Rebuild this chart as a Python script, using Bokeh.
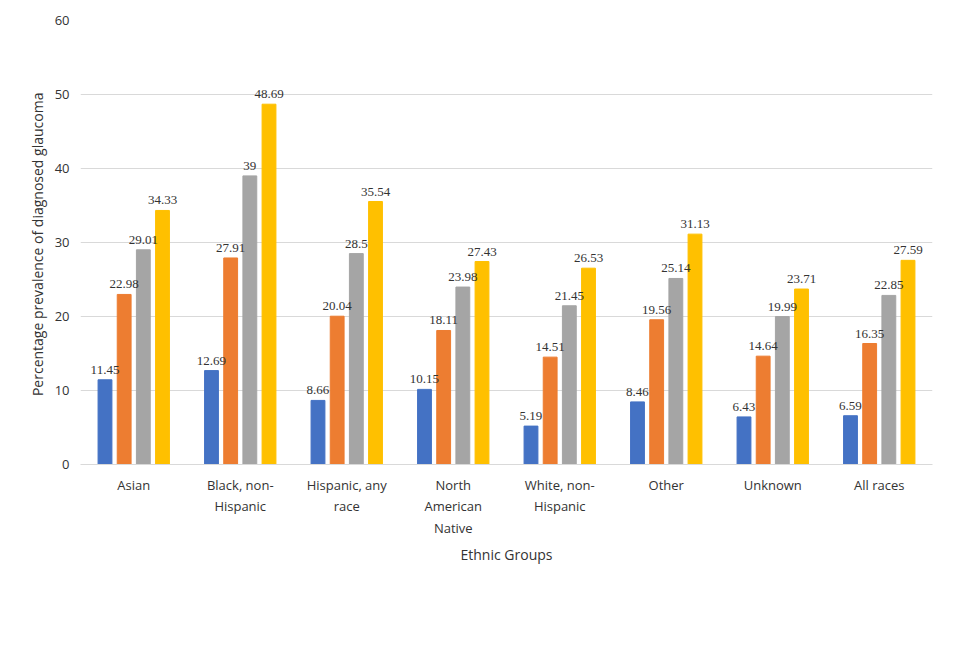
from bokeh.plotting import figure
from bokeh.models import ColumnDataSource, LabelSet, Legend, LegendItem, FixedTicker
from bokeh.embed import file_html
from bokeh.resources import INLINE

groups = ["Asian", "Black, non-\nHispanic", "Hispanic, any\nrace", "North\nAmerican\nNative",
          "White, non-\nHispanic", "Other", "Unknown", "All races"]
series = ["18-39", "40-64", "65-84", "85 years and older"]
v18 = [11.45, 12.69, 8.66, 10.15, 5.19, 8.46, 6.43, 6.59]
v40 = [22.98, 27.91, 20.04, 18.11, 14.51, 19.56, 14.64, 16.35]
v65 = [29.01, 39, 28.5, 23.98, 21.45, 25.14, 19.99, 22.85]
v85 = [34.33, 48.69, 35.54, 27.43, 26.53, 31.13, 23.71, 27.59]
colors = ["#4472C4", "#ED7D31", "#A5A5A5", "#FFC000"]
offsets = [-0.27, -0.09, 0.09, 0.27]

p = figure(frame_width=852, frame_height=444, output_backend="svg", toolbar_location=None,
           x_range=(-0.5, 7.5), y_range=(0, 60), min_border_left=80, min_border_top=20,
           min_border_right=15, min_border_bottom=10)
p.outline_line_color = None
p.xgrid.grid_line_color = None
p.ygrid.grid_line_color = "#D9D9D9"
p.yaxis.ticker = FixedTicker(ticks=list(range(0, 61, 10)))
p.xaxis.ticker = FixedTicker(ticks=list(range(8)))
p.xaxis.major_label_overrides = {i: g for i, g in enumerate(groups)}
for ax in (p.xaxis, p.yaxis):
    ax.major_tick_line_color = None
    ax.minor_tick_line_color = None
    ax.major_label_text_font = "Open Sans"
    ax.major_label_text_font_size = "13px"
    ax.major_label_text_color = "#333333"
    ax.axis_label_text_font = "Open Sans"
    ax.axis_label_text_font_size = "14px"
    ax.axis_label_text_font_style = "normal"
    ax.axis_label_text_color = "#333333"
p.yaxis.axis_line_color = None
p.xaxis.axis_line_color = "#D9D9D9"
p.yaxis.axis_label = "Percentage  prevalence of diagnosed glaucoma"
p.xaxis.axis_label = "Ethnic Groups"

items = []
for name, vals, c, off in zip(series, [v18, v40, v65, v85], colors, offsets):
    src = ColumnDataSource(dict(x=[i + off for i in range(8)], top=vals,
                                lab=[f"{v:g}" for v in vals]))
    r = p.vbar(x="x", top="top", width=0.13, color=c, source=src)
    items.append(LegendItem(label=name, renderers=[r]))
    p.add_layout(LabelSet(x="x", y="top", text="lab", source=src, text_align="center",
                          y_offset=6, text_font="Open Sans", text_font_size="13px",
                          text_color="#333333"))

leg = Legend(items=items, orientation="horizontal", location="center",
             label_text_font="Open Sans", label_text_font_size="13px",
             glyph_width=10, glyph_height=10, spacing=20, border_line_color=None,
             margin=12)
p.add_layout(leg, "below")

open("out.html", "w").write(file_html(p, INLINE))
